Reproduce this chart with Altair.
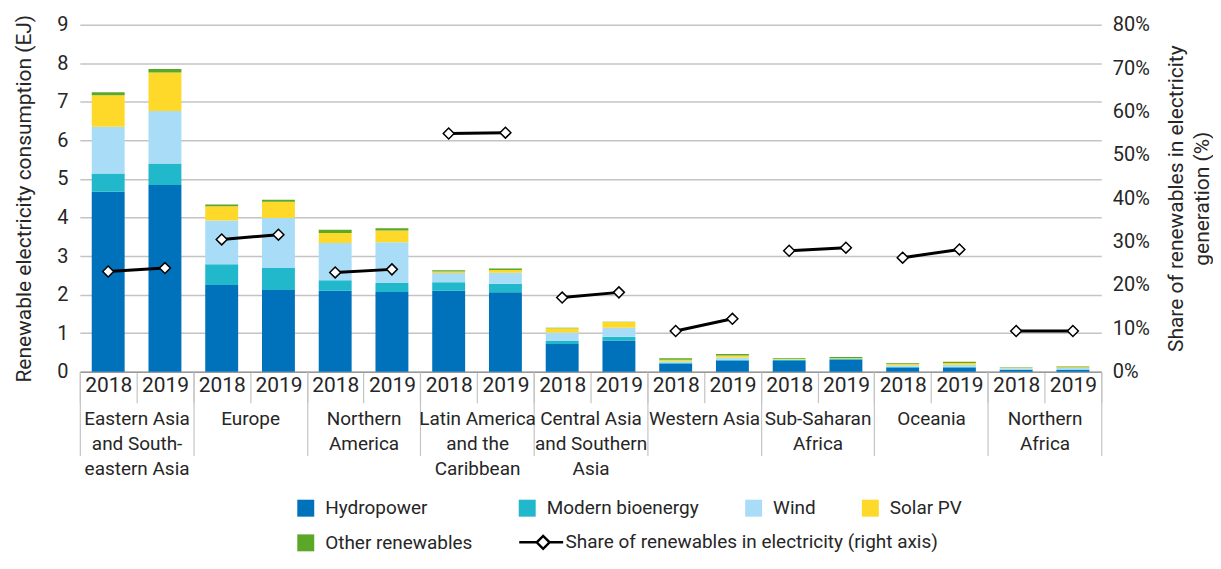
import altair as alt
import pandas as pd

regions = [
    "Eastern Asia and South-eastern Asia", "Europe", "Northern America",
    "Latin America and the Caribbean", "Central Asia and Southern Asia",
    "Western Asia", "Sub-Saharan Africa", "Oceania", "Northern Africa",
]
region_labels = [
    "Eastern Asia|and South-|eastern Asia", "Europe", "Northern|America",
    "Latin America|and the|Caribbean", "Central Asia|and Southern|Asia",
    "Western Asia", "Sub-Saharan|Africa", "Oceania", "Northern|Africa",
]
years = ["2018", "2019"]

sources = ["Hydropower", "Modern bioenergy", "Wind", "Solar PV", "Other renewables"]
line_name = "Share of renewables in electricity (right axis)"
colors = ["#0072bb", "#21b8cb", "#a9ddf7", "#ffd92a", "#5ba829"]

# EJ, order: region0-2018, region0-2019, region1-2018, ...
hydro = [4.67, 4.84, 2.25, 2.12, 2.10, 2.07, 2.10, 2.06, 0.72, 0.81, 0.21, 0.29, 0.28, 0.31, 0.11, 0.11, 0.05, 0.05]
bio   = [0.47, 0.56, 0.54, 0.57, 0.27, 0.23, 0.22, 0.22, 0.08, 0.10, 0.02, 0.02, 0.03, 0.02, 0.02, 0.02, 0.01, 0.01]
wind  = [1.21, 1.36, 1.13, 1.30, 0.97, 1.06, 0.24, 0.29, 0.22, 0.23, 0.04, 0.06, 0.01, 0.01, 0.04, 0.05, 0.03, 0.04]
solar = [0.82, 1.00, 0.37, 0.42, 0.26, 0.30, 0.04, 0.07, 0.11, 0.15, 0.04, 0.05, 0.01, 0.01, 0.04, 0.05, 0.01, 0.02]
other = [0.08, 0.09, 0.05, 0.05, 0.08, 0.06, 0.03, 0.04, 0.01, 0.01, 0.04, 0.04, 0.02, 0.03, 0.02, 0.03, 0.01, 0.02]
# share of renewables in electricity generation (%)
share = [23.1, 23.9, 30.5, 31.6, 22.9, 23.6, 54.9, 55.1, 17.1, 18.3, 9.4, 12.2, 27.9, 28.6, 26.3, 28.2, 9.4, 9.4]

series = [hydro, bio, wind, solar, other]
slots = [f"{i}|{y}" for i in range(len(regions)) for y in years]

rows = []
for k, slot in enumerate(slots):
    for j, src in enumerate(sources):
        rows.append({"slot": slot, "source": src, "order": j, "value": series[j][k]})
df_bars = pd.DataFrame(rows)

df_share = pd.DataFrame({
    "slot": slots,
    "region": [regions[k // 2] for k in range(len(slots))],
    "series": [line_name] * len(slots),
    "share": [s / 100 for s in share],
})
df_regions = pd.DataFrame({"label": region_labels})

FONT = "Roboto"
TXT = "#262626"
GRID = "#c4c4c4"

xscale = alt.Scale(domain=slots, paddingInner=0, paddingOuter=0)

legend_src = alt.Legend(
    title=None, orient="none", legendX=217, legendY=475, columns=4, direction="horizontal",
    columnPadding=45, rowPadding=15, symbolSize=289, symbolType="square",
    symbolStrokeWidth=0, labelFont=FONT, labelFontSize=19, labelColor=TXT,
    labelOffset=10, labelLimit=400, padding=0,
)

line_path = "M-1,0L1.06,0M2.58,0L4.18,0M1.06,0L1.82,-0.76L2.58,0L1.82,0.76Z"
legend_line = alt.Legend(
    title=None, orient="none", legendX=439, legendY=509, padding=0,
    symbolSize=289, symbolType=line_path, symbolFillColor="white",
    symbolStrokeWidth=2.5, labelFont=FONT, labelFontSize=19, labelColor=TXT,
    labelOffset=28, labelLimit=600,
)

bars = alt.Chart(df_bars).mark_bar(width=alt.RelativeBandSize(0.58)).encode(
    x=alt.X("slot:N", sort=slots, scale=xscale,
            axis=alt.Axis(orient="bottom", title=None, labelExpr="split(datum.value, '|')[1]",
                          labelAngle=0, tickBand="extent", tickSize=31, tickColor=GRID,
                          tickWidth=1.2, domainColor="#9a9a9a", domainWidth=1.5,
                          labelPadding=-28, labelFontSize=21, grid=False)),
    y=alt.Y("value:Q", stack="zero", scale=alt.Scale(domain=[0, 9], nice=False),
            axis=alt.Axis(title="Renewable electricity consumption (EJ)", values=list(range(10)),
                          grid=True, gridColor=GRID, gridWidth=1.5, domain=False, ticks=False,
                          labelPadding=12, labelFontSize=20, titleFontSize=21, titlePadding=22)),
    color=alt.Color("source:N", scale=alt.Scale(domain=sources, range=colors),
                    sort=sources, legend=legend_src),
    order=alt.Order("order:Q"),
)

line = alt.Chart(df_share).mark_line(
    strokeWidth=3,
    point=alt.OverlayMarkDef(shape="diamond", filled=True, fill="white",
                             strokeWidth=1.5, size=120, opacity=1),
).encode(
    x=alt.X("slot:N", sort=slots, scale=xscale, axis=None),
    y=alt.Y("share:Q", scale=alt.Scale(domain=[0, 0.8], nice=False),
            axis=alt.Axis(orient="right", format=".0%", values=[i / 10 for i in range(9)],
                          title=["Share of renewables in electricity", "generation (%)"],
                          grid=False, domain=False, ticks=False, labelPadding=11,
                          labelFontSize=20, titleFontSize=21, titleLineHeight=26,
                          titleAngle=270, titlePadding=11)),
    stroke=alt.Stroke("series:N", scale=alt.Scale(domain=[line_name], range=["#000000"]),
                      legend=legend_line),
    detail="region:N",
)

helper = alt.Chart(df_regions).mark_rule(opacity=0).encode(
    x=alt.X("label:N", sort=region_labels,
            scale=alt.Scale(domain=region_labels, paddingInner=0, paddingOuter=0),
            axis=alt.Axis(orient="bottom", title=None, labelExpr="split(datum.label, '|')",
                          labelAngle=0, tickBand="extent", tickSize=84, tickColor=GRID,
                          tickWidth=1.2, domain=False, labelPadding=-46, labelFontSize=19,
                          labelLineHeight=25, labelLimit=0, grid=False)),
)

chart = alt.layer(bars, line, helper).resolve_scale(
    x="independent", y="independent"
).properties(
    width=1024, height=348,
    autosize=alt.AutoSizeParams(type="none"),
    padding={"left": 72, "top": 16, "right": 112, "bottom": 183},
).configure_view(stroke=None).configure_axis(
    labelFont=FONT, titleFont=FONT, labelColor=TXT, titleColor=TXT,
    titleFontWeight="normal",
).configure_legend(labelFont=FONT)

chart.save("out.html", embed_options={"renderer": "svg", "actions": False})
